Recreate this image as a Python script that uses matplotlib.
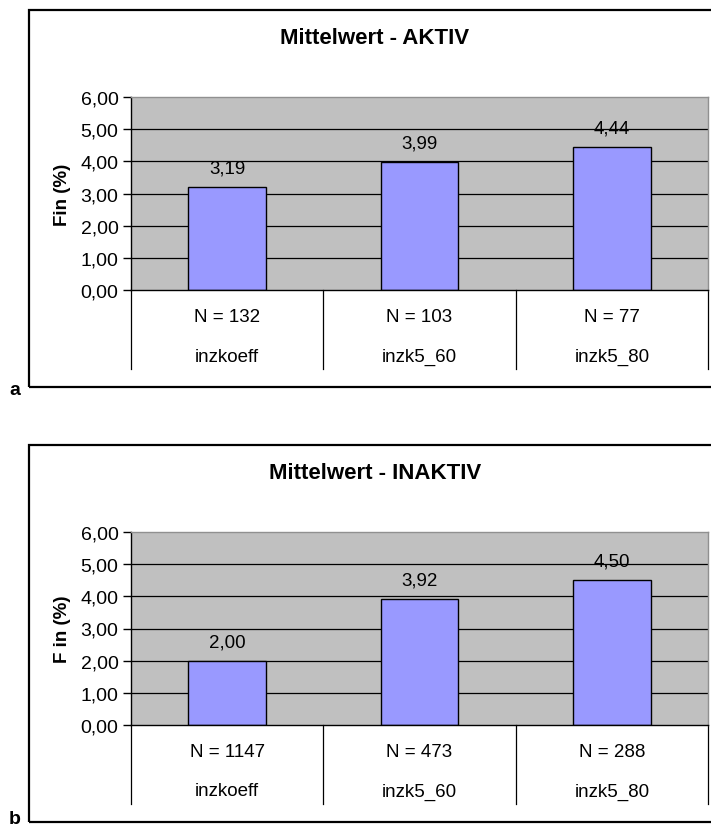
import matplotlib
matplotlib.use("Agg")
import matplotlib.pyplot as plt
from matplotlib.patches import Rectangle

plt.rcParams["font.family"] = ["Liberation Sans", "DejaVu Sans"]

kategorien = ["inzkoeff", "inzk5_60", "inzk5_80"]

werte_aktiv = [3.19, 3.99, 4.44]
n_aktiv = [132, 103, 77]

werte_inaktiv = [2.00, 3.92, 4.50]
n_inaktiv = [1147, 473, 288]

titel = ["Mittelwert - AKTIV", "Mittelwert - INAKTIV"]
y_labels = ["Fin (%)", "F in (%)"]
panel_buchstaben = ["a", "b"]

W, H = 711, 829
fig = plt.figure(figsize=(W / 100, H / 100), dpi=100)


def px_rect(x0, y0, x1, y1):
    # pixel box (top-left origin) -> figure fraction [l, b, w, h]
    return [x0 / W, 1 - y1 / H, (x1 - x0) / W, (y1 - y0) / H]


def komma(v):
    return f"{v:.2f}".replace(".", ",")


def zeichne_panel(werte, ns, titel_txt, ylab, buchstabe, top):
    # top = pixel offset of the panel's outer frame
    box_top, box_bot = top, top + 377
    fig.patches.append(Rectangle((29 / W, 1 - box_bot / H), (760 - 29) / W,
                                 (box_bot - box_top) / H, transform=fig.transFigure,
                                 fill=False, edgecolor="black", linewidth=1.6,
                                 clip_on=False))
    fig.text(375 / W, 1 - (top + 28) / H, titel_txt, ha="center", va="center",
             fontsize=16, fontweight="bold")
    fig.text(15 / W, 1 - min(box_bot + 3, H - 9) / H, buchstabe, ha="center",
             va="center", fontsize=14, fontweight="bold")

    plot_top = top + 87
    plot_bot = plot_top + 193
    ax = fig.add_axes(px_rect(131, plot_top, 708, plot_bot))
    ax.set_facecolor("#C0C0C0")
    x = range(len(werte))
    ax.bar(x, werte, width=0.405, color="#9999FF", edgecolor="black",
           linewidth=1.0, zorder=3)
    for i, v in enumerate(werte):
        ax.annotate(komma(v), (i, v), xytext=(0, 7.5), textcoords="offset points",
                    ha="center", va="bottom", fontsize=13.5)

    ax.set_xlim(-0.5, len(werte) - 0.5)
    ax.set_ylim(0, 6)
    ax.set_yticks(range(0, 7))
    ax.set_yticklabels([komma(t) for t in range(0, 7)], fontsize=14)
    ax.tick_params(axis="y", length=6, width=1, pad=3)
    ax.set_xticks([])
    for t in range(1, 6):
        ax.axhline(t, color="black", linewidth=0.9, zorder=1)
    ax.set_ylabel(ylab, fontsize=13.5, fontweight="bold", labelpad=7)

    ax.spines["left"].set_color("black")
    ax.spines["bottom"].set_color("black")
    ax.spines["top"].set_color("#909090")
    ax.spines["right"].set_color("#909090")
    for s in ax.spines.values():
        s.set_linewidth(1.0)
    ax.spines["bottom"].set_zorder(4)

    # data table below the x axis
    unten = -(370 - 291) / 193 * 6
    for xv in [i - 0.5 for i in range(len(werte) + 1)]:
        ax.plot([xv, xv], [0, unten], color="black", linewidth=0.9, clip_on=False)
    for i, (n, k) in enumerate(zip(ns, kategorien)):
        ax.text(i, -(318 - 291) / 193 * 6, f"N = {n}", ha="center", va="center",
                fontsize=13.5, clip_on=False)
        ax.text(i, -(357 - 291) / 193 * 6, k, ha="center", va="center",
                fontsize=13.5, clip_on=False)


zeichne_panel(werte_aktiv, n_aktiv, titel[0], y_labels[0], panel_buchstaben[0], 11)
zeichne_panel(werte_inaktiv, n_inaktiv, titel[1], y_labels[1], panel_buchstaben[1], 446)

fig.savefig("out.png", dpi=100)
